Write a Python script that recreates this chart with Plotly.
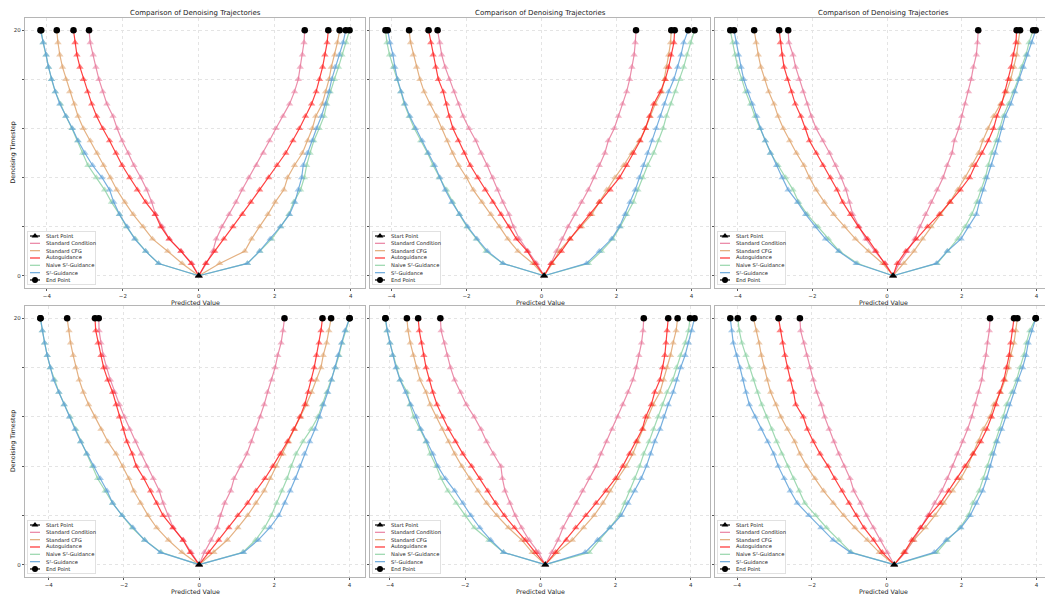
import plotly.graph_objects as go

# ---------------- data ----------------
STEPS = list(range(0, 21))          # denoising timesteps 0..20
METHODS = ["Standard Condition", "Standard CFG", "Autoguidance",
           "Naive S²-Guidance", "S²-Guidance"]
COLORS = ["#e8799b", "#dfa36c", "#ff1f1f", "#8ed2a5", "#5ea1d8"]
START_X = [0.00, 0.07, 0.16, 0.00, 0.13, 0.20]
X_TICKS = [-4, -2, 0, 2, 4]
Y_TICKS = [0, 20]
Y_MINOR = [4, 8, 12, 16]

# values for timesteps 1..20 (timestep 0 is the start point)
# panel 1
P1_COND_L = [-0.18, -0.47, -0.78, -0.96, -1.14, -1.24, -1.37, -1.53, -1.71, -1.86, -2.02, -2.15, -2.26, -2.42, -2.53, -2.63, -2.71, -2.78, -2.86, -2.89]
P1_COND_R = [0.20, 0.37, 0.46, 0.61, 0.80, 0.98, 1.14, 1.32, 1.52, 1.70, 1.86, 2.03, 2.22, 2.39, 2.52, 2.62, 2.67, 2.73, 2.77, 2.79]
P1_CFG_L = [-0.44, -0.82, -1.22, -1.47, -1.73, -1.95, -2.16, -2.33, -2.51, -2.68, -2.86, -3.04, -3.18, -3.28, -3.40, -3.50, -3.59, -3.66, -3.71, -3.74]
P1_CFG_R = [0.55, 1.21, 1.39, 1.60, 1.82, 2.01, 2.24, 2.34, 2.52, 2.73, 2.87, 2.99, 3.08, 3.25, 3.34, 3.43, 3.49, 3.58, 3.65, 3.71]
P1_AUTO_L = [-0.20, -0.47, -0.78, -1.00, -1.15, -1.40, -1.62, -1.82, -2.02, -2.18, -2.35, -2.53, -2.69, -2.82, -2.93, -3.04, -3.13, -3.21, -3.26, -3.30]
P1_AUTO_R = [0.18, 0.42, 0.66, 0.90, 1.15, 1.37, 1.60, 1.84, 2.06, 2.29, 2.48, 2.65, 2.81, 2.97, 3.09, 3.18, 3.26, 3.32, 3.38, 3.41]
P1_NAIVE_L = [-1.06, -1.40, -1.67, -1.91, -2.09, -2.30, -2.48, -2.70, -2.92, -3.06, -3.19, -3.34, -3.50, -3.64, -3.78, -3.88, -3.96, -4.02, -4.10, -4.15]
P1_NAIVE_R = [1.28, 1.61, 1.92, 2.16, 2.37, 2.50, 2.68, 2.78, 2.84, 2.93, 3.03, 3.17, 3.30, 3.37, 3.46, 3.57, 3.68, 3.77, 3.88, 3.97]
P1_S2_L = [-1.06, -1.40, -1.69, -1.89, -2.09, -2.24, -2.35, -2.55, -2.80, -3.00, -3.18, -3.33, -3.50, -3.66, -3.78, -3.88, -3.96, -4.02, -4.10, -4.17]
P1_S2_R = [1.28, 1.60, 1.88, 2.15, 2.39, 2.53, 2.62, 2.71, 2.75, 2.86, 2.99, 3.10, 3.23, 3.34, 3.43, 3.50, 3.59, 3.70, 3.80, 3.87]
# panel 2
P2_COND_L = [-0.13, -0.36, -0.59, -0.75, -0.87, -1.03, -1.17, -1.30, -1.45, -1.61, -1.75, -1.93, -2.09, -2.21, -2.33, -2.46, -2.57, -2.66, -2.71, -2.77]
P2_COND_R = [0.25, 0.40, 0.55, 0.71, 0.89, 1.07, 1.25, 1.40, 1.54, 1.69, 1.78, 1.94, 2.05, 2.16, 2.27, 2.35, 2.41, 2.47, 2.50, 2.52]
P2_CFG_L = [-0.23, -0.63, -0.90, -1.12, -1.35, -1.59, -1.82, -2.00, -2.21, -2.37, -2.51, -2.64, -2.80, -2.97, -3.13, -3.24, -3.33, -3.42, -3.49, -3.53]
P2_CFG_R = [0.29, 0.47, 0.76, 1.07, 1.34, 1.54, 1.74, 1.96, 2.19, 2.41, 2.61, 2.77, 2.90, 3.03, 3.21, 3.28, 3.33, 3.39, 3.44, 3.46]
P2_AUTO_L = [-0.17, -0.38, -0.67, -0.87, -1.08, -1.30, -1.50, -1.70, -1.90, -2.06, -2.22, -2.36, -2.46, -2.53, -2.62, -2.75, -2.82, -2.89, -2.95, -3.01]
P2_AUTO_R = [0.26, 0.53, 0.76, 1.02, 1.29, 1.54, 1.83, 2.08, 2.27, 2.45, 2.63, 2.77, 2.88, 2.99, 3.17, 3.30, 3.39, 3.45, 3.53, 3.55]
P2_NAIVE_L = [-1.03, -1.48, -1.74, -1.99, -2.19, -2.37, -2.53, -2.73, -2.89, -3.04, -3.22, -3.39, -3.53, -3.66, -3.75, -3.84, -3.95, -4.05, -4.12, -4.16]
P2_NAIVE_R = [1.25, 1.60, 1.90, 2.10, 2.27, 2.45, 2.57, 2.70, 2.83, 2.99, 3.12, 3.24, 3.33, 3.45, 3.57, 3.69, 3.79, 3.88, 3.97, 4.08]
P2_S2_L = [-1.03, -1.44, -1.72, -1.97, -2.19, -2.39, -2.57, -2.71, -2.85, -3.02, -3.18, -3.36, -3.51, -3.64, -3.75, -3.84, -3.91, -3.96, -4.04, -4.10]
P2_S2_R = [1.20, 1.54, 1.87, 2.08, 2.23, 2.36, 2.50, 2.61, 2.72, 2.83, 2.95, 3.06, 3.17, 3.28, 3.39, 3.53, 3.63, 3.72, 3.79, 3.91]
# panel 3
P3_COND_L = [-0.05, -0.33, -0.57, -0.75, -0.92, -1.01, -1.10, -1.23, -1.38, -1.54, -1.72, -1.90, -2.03, -2.14, -2.25, -2.36, -2.45, -2.52, -2.63, -2.65]
P3_COND_R = [0.32, 0.54, 0.74, 0.88, 1.03, 1.18, 1.34, 1.50, 1.61, 1.74, 1.80, 1.92, 2.00, 2.09, 2.18, 2.25, 2.31, 2.39, 2.42, 2.44]
P3_CFG_L = [-0.12, -0.50, -0.85, -1.14, -1.43, -1.68, -1.90, -2.08, -2.23, -2.43, -2.61, -2.78, -2.92, -3.03, -3.17, -3.27, -3.38, -3.45, -3.51, -3.56]
P3_CFG_R = [0.45, 0.72, 0.95, 1.18, 1.43, 1.68, 1.89, 2.09, 2.27, 2.45, 2.56, 2.71, 2.85, 3.04, 3.20, 3.31, 3.40, 3.47, 3.51, 3.56]
P3_AUTO_L = [-0.06, -0.30, -0.52, -0.77, -0.98, -1.19, -1.34, -1.52, -1.72, -1.90, -2.08, -2.19, -2.31, -2.46, -2.56, -2.67, -2.76, -2.81, -2.86, -2.89]
P3_AUTO_R = [0.27, 0.50, 0.78, 1.08, 1.40, 1.69, 1.96, 2.21, 2.36, 2.54, 2.71, 2.85, 2.94, 3.07, 3.16, 3.25, 3.32, 3.38, 3.45, 3.47]
P3_NAIVE_L = [-0.79, -1.28, -1.57, -1.85, -2.14, -2.37, -2.52, -2.72, -2.92, -3.12, -3.26, -3.41, -3.54, -3.66, -3.79, -3.89, -4.00, -4.07, -4.13, -4.20]
P3_NAIVE_R = [1.34, 1.62, 1.89, 2.09, 2.27, 2.40, 2.51, 2.63, 2.71, 2.80, 2.92, 3.02, 3.11, 3.25, 3.39, 3.51, 3.60, 3.72, 3.80, 3.91]
P3_S2_L = [-0.83, -1.30, -1.65, -1.92, -2.18, -2.40, -2.65, -2.81, -2.96, -3.13, -3.26, -3.39, -3.49, -3.61, -3.73, -3.84, -3.91, -3.98, -4.04, -4.10]
P3_S2_R = [1.32, 1.61, 1.98, 2.18, 2.39, 2.47, 2.58, 2.67, 2.80, 2.89, 2.98, 3.07, 3.16, 3.31, 3.42, 3.54, 3.65, 3.75, 3.87, 3.98]
# panel 4
P4_COND_L = [-0.21, -0.42, -0.69, -0.82, -0.96, -1.06, -1.22, -1.40, -1.54, -1.69, -1.85, -1.99, -2.12, -2.25, -2.36, -2.46, -2.55, -2.61, -2.66, -2.67]
P4_COND_R = [0.14, 0.32, 0.48, 0.57, 0.68, 0.84, 0.93, 1.10, 1.27, 1.39, 1.51, 1.63, 1.73, 1.82, 1.93, 2.02, 2.09, 2.18, 2.23, 2.27]
P4_CFG_L = [-0.46, -0.82, -1.13, -1.36, -1.56, -1.74, -1.87, -2.03, -2.21, -2.43, -2.61, -2.77, -2.94, -3.08, -3.19, -3.28, -3.35, -3.42, -3.46, -3.51]
P4_CFG_R = [0.39, 0.75, 1.03, 1.29, 1.51, 1.73, 1.89, 2.05, 2.23, 2.38, 2.54, 2.70, 2.85, 2.99, 3.12, 3.24, 3.30, 3.39, 3.45, 3.51]
P4_AUTO_L = [-0.24, -0.43, -0.70, -0.96, -1.13, -1.29, -1.47, -1.67, -1.78, -1.92, -2.01, -2.12, -2.21, -2.30, -2.43, -2.54, -2.61, -2.69, -2.75, -2.77]
P4_AUTO_R = [0.26, 0.52, 0.79, 1.03, 1.29, 1.51, 1.75, 1.96, 2.16, 2.35, 2.52, 2.68, 2.81, 2.90, 2.99, 3.06, 3.12, 3.19, 3.24, 3.28]
P4_NAIVE_L = [-1.01, -1.45, -1.78, -2.05, -2.30, -2.50, -2.70, -2.84, -2.99, -3.15, -3.28, -3.43, -3.59, -3.73, -3.84, -3.96, -4.04, -4.11, -4.17, -4.22]
P4_NAIVE_R = [1.16, 1.50, 1.74, 1.92, 2.06, 2.20, 2.34, 2.45, 2.58, 2.76, 2.98, 3.16, 3.28, 3.40, 3.52, 3.62, 3.72, 3.80, 3.90, 4.00]
P4_S2_L = [-1.03, -1.45, -1.76, -2.05, -2.30, -2.45, -2.63, -2.81, -2.99, -3.15, -3.30, -3.45, -3.59, -3.73, -3.87, -3.96, -4.04, -4.11, -4.17, -4.22]
P4_S2_R = [1.18, 1.57, 1.88, 2.12, 2.28, 2.42, 2.56, 2.68, 2.80, 2.94, 3.08, 3.20, 3.30, 3.42, 3.52, 3.62, 3.70, 3.79, 3.88, 4.00]
# panel 5
P5_COND_L = [-0.05, -0.30, -0.50, -0.67, -0.81, -0.94, -1.01, -1.05, -1.25, -1.43, -1.58, -1.76, -1.97, -2.12, -2.28, -2.39, -2.48, -2.55, -2.64, -2.66]
P5_COND_R = [0.31, 0.47, 0.60, 0.78, 0.96, 1.12, 1.30, 1.48, 1.61, 1.76, 1.91, 2.06, 2.19, 2.33, 2.46, 2.55, 2.62, 2.69, 2.73, 2.75]
P5_CFG_L = [-0.22, -0.49, -0.85, -1.16, -1.43, -1.66, -1.88, -2.09, -2.28, -2.44, -2.61, -2.75, -2.93, -3.04, -3.20, -3.29, -3.38, -3.46, -3.52, -3.55]
P5_CFG_R = [0.45, 0.85, 1.15, 1.43, 1.66, 1.85, 2.06, 2.28, 2.46, 2.59, 2.73, 2.86, 3.00, 3.18, 3.28, 3.37, 3.46, 3.53, 3.61, 3.65]
P5_AUTO_L = [-0.13, -0.40, -0.69, -0.96, -1.19, -1.40, -1.61, -1.83, -2.06, -2.26, -2.44, -2.60, -2.75, -2.86, -2.95, -3.04, -3.10, -3.16, -3.22, -3.25]
P5_AUTO_R = [0.40, 0.69, 0.94, 1.21, 1.48, 1.74, 2.00, 2.19, 2.37, 2.55, 2.71, 2.80, 2.95, 3.04, 3.18, 3.25, 3.31, 3.34, 3.37, 3.40]
P5_NAIVE_L = [-0.98, -1.37, -1.76, -2.00, -2.24, -2.46, -2.64, -2.77, -2.93, -3.04, -3.20, -3.37, -3.47, -3.54, -3.73, -3.82, -3.93, -4.00, -4.08, -4.12]
P5_NAIVE_R = [1.30, 1.57, 1.85, 2.10, 2.24, 2.39, 2.51, 2.64, 2.75, 2.89, 3.01, 3.13, 3.25, 3.37, 3.52, 3.62, 3.73, 3.85, 3.94, 3.98]
P5_S2_L = [-0.98, -1.32, -1.61, -1.85, -2.06, -2.28, -2.53, -2.73, -2.86, -3.03, -3.18, -3.30, -3.45, -3.58, -3.73, -3.84, -3.93, -4.00, -4.07, -4.12]
P5_S2_R = [1.19, 1.52, 1.85, 2.15, 2.33, 2.51, 2.68, 2.82, 2.93, 3.04, 3.18, 3.28, 3.40, 3.53, 3.62, 3.73, 3.85, 3.94, 4.03, 4.10]
# panel 6
P6_COND_L = [0.01, -0.17, -0.36, -0.54, -0.70, -0.88, -0.98, -1.14, -1.28, -1.41, -1.54, -1.66, -1.75, -1.87, -1.96, -2.05, -2.14, -2.21, -2.30, -2.32]
P6_COND_R = [0.50, 0.72, 0.92, 1.10, 1.28, 1.47, 1.62, 1.76, 1.89, 2.03, 2.16, 2.27, 2.36, 2.45, 2.54, 2.58, 2.65, 2.69, 2.74, 2.76]
P6_CFG_L = [-0.20, -0.52, -0.85, -1.15, -1.43, -1.69, -1.92, -2.14, -2.32, -2.46, -2.65, -2.83, -2.96, -3.10, -3.19, -3.28, -3.35, -3.41, -3.48, -3.56]
P6_CFG_R = [0.45, 0.72, 1.03, 1.29, 1.52, 1.76, 1.98, 2.16, 2.30, 2.45, 2.58, 2.76, 2.86, 3.04, 3.16, 3.25, 3.31, 3.40, 3.45, 3.49]
P6_AUTO_L = [-0.12, -0.35, -0.61, -0.81, -1.01, -1.19, -1.39, -1.57, -1.78, -1.96, -2.12, -2.23, -2.43, -2.49, -2.58, -2.65, -2.72, -2.78, -2.85, -2.89]
P6_AUTO_R = [0.47, 0.67, 0.90, 1.14, 1.43, 1.65, 1.89, 2.09, 2.31, 2.51, 2.67, 2.80, 2.92, 3.02, 3.13, 3.20, 3.27, 3.31, 3.36, 3.40]
P6_NAIVE_L = [-0.95, -1.28, -1.61, -1.90, -2.19, -2.34, -2.49, -2.65, -2.81, -2.94, -3.07, -3.21, -3.34, -3.45, -3.56, -3.67, -3.76, -3.87, -3.94, -3.98]
P6_NAIVE_R = [1.34, 1.62, 1.96, 2.18, 2.30, 2.47, 2.58, 2.69, 2.80, 2.92, 3.01, 3.11, 3.20, 3.34, 3.47, 3.56, 3.66, 3.73, 3.82, 3.98]
P6_S2_L = [-0.97, -1.43, -1.76, -2.08, -2.39, -2.58, -2.74, -2.90, -3.02, -3.18, -3.36, -3.52, -3.67, -3.76, -3.83, -3.92, -4.01, -4.10, -4.14, -4.18]
P6_S2_R = [1.27, 1.59, 1.98, 2.23, 2.39, 2.56, 2.67, 2.76, 2.85, 2.95, 3.07, 3.18, 3.27, 3.38, 3.51, 3.63, 3.72, 3.78, 3.87, 3.98]

PANELS = [
    [(P1_COND_L, P1_COND_R), (P1_CFG_L, P1_CFG_R), (P1_AUTO_L, P1_AUTO_R), (P1_NAIVE_L, P1_NAIVE_R), (P1_S2_L, P1_S2_R)],
    [(P2_COND_L, P2_COND_R), (P2_CFG_L, P2_CFG_R), (P2_AUTO_L, P2_AUTO_R), (P2_NAIVE_L, P2_NAIVE_R), (P2_S2_L, P2_S2_R)],
    [(P3_COND_L, P3_COND_R), (P3_CFG_L, P3_CFG_R), (P3_AUTO_L, P3_AUTO_R), (P3_NAIVE_L, P3_NAIVE_R), (P3_S2_L, P3_S2_R)],
    [(P4_COND_L, P4_COND_R), (P4_CFG_L, P4_CFG_R), (P4_AUTO_L, P4_AUTO_R), (P4_NAIVE_L, P4_NAIVE_R), (P4_S2_L, P4_S2_R)],
    [(P5_COND_L, P5_COND_R), (P5_CFG_L, P5_CFG_R), (P5_AUTO_L, P5_AUTO_R), (P5_NAIVE_L, P5_NAIVE_R), (P5_S2_L, P5_S2_R)],
    [(P6_COND_L, P6_COND_R), (P6_CFG_L, P6_CFG_R), (P6_AUTO_L, P6_AUTO_R), (P6_NAIVE_L, P6_NAIVE_R), (P6_S2_L, P6_S2_R)],
]

# ---------------- layout geometry ----------------
# the page body adds an 8px margin, so the figure is sized to fill the rest of the window
W, H = 1045, 588
COLS_PX = [(17, 357), (362, 702), (707, 1043)]
ROWS_PX = [(10, 280), (298, 569)]
FONT = "DejaVu Sans"
TXT = "#222222"
GRID = "#e4e4e4"


def rgba(hex_color, a):
    h = hex_color.lstrip("#")
    r, g, b = int(h[0:2], 16), int(h[2:4], 16), int(h[4:6], 16)
    return f"rgba({r},{g},{b},{a})"


fig = go.Figure()
layout = dict(
    width=W, height=H,
    margin=dict(l=0, r=0, t=0, b=0),
    paper_bgcolor="white", plot_bgcolor="white",
    showlegend=False,
    font=dict(family=FONT, size=6, color=TXT),
)
annotations = []
shapes = []

LEG_LABELS = ["Start Point"] + METHODS + ["End Point"]

for p in range(6):
    r, c = divmod(p, 3)
    x0px, x1px = COLS_PX[c]
    t_px, b_px = ROWS_PX[r]
    ax = "" if p == 0 else str(p + 1)
    xa, ya = "x" + ax, "y" + ax
    start = START_X[p]

    # data traces
    allx = [start]
    for m, (left, right) in enumerate(PANELS[p]):
        for branch in (left, right):
            xs = [start] + list(branch)
            allx += xs
            fig.add_trace(go.Scatter(
                x=xs, y=STEPS, mode="lines+markers", xaxis=xa, yaxis=ya,
                line=dict(color=rgba(COLORS[m], 0.85), width=1.2),
                marker=dict(symbol="triangle-up", size=6.5, color=rgba(COLORS[m], 0.55),
                            line=dict(width=0)),
                hoverinfo="skip", showlegend=False))
    # start point
    fig.add_trace(go.Scatter(
        x=[start], y=[STEPS[0]], mode="markers", xaxis=xa, yaxis=ya,
        marker=dict(symbol="triangle-up", size=7, color="black"),
        hoverinfo="skip", showlegend=False))
    # end points
    ends = [br[-1] for pair in PANELS[p] for br in pair]
    fig.add_trace(go.Scatter(
        x=ends, y=[STEPS[-1]] * len(ends), mode="markers", xaxis=xa, yaxis=ya,
        marker=dict(symbol="circle", size=6.5, color="black"),
        hoverinfo="skip", showlegend=False))

    lo, hi = min(allx), max(allx)
    pad = (hi - lo) * 0.05
    common = dict(
        showline=True, mirror=True, linecolor="#b5b5b5", linewidth=1.3,
        ticks="outside", ticklen=2, tickwidth=0.7, tickcolor="#555555",
        showgrid=True, gridcolor=GRID, griddash="dot", gridwidth=0.7,
        zeroline=False, tickfont=dict(size=5.5, color="#333333", family=FONT),
        fixedrange=True,
    )
    layout["xaxis" + ax] = dict(
        common, domain=[x0px / W, x1px / W], range=[lo - pad, hi + pad],
        anchor=ya, tickvals=X_TICKS,
    )
    layout["yaxis" + ax] = dict(
        common, domain=[1 - b_px / H, 1 - t_px / H], range=[-1, 21],
        anchor=xa, tickvals=Y_TICKS, showticklabels=(c == 0),
        minor=dict(tickvals=Y_MINOR, ticks="outside", ticklen=2, tickwidth=0.7,
                   tickcolor="#555555", showgrid=True, gridcolor=GRID,
                   griddash="dot", gridwidth=0.7),
    )

    # axis titles
    annotations.append(dict(
        text="Predicted Value", xref="paper", yref="paper",
        x=(x0px + x1px) / 2 / W, y=1 - (b_px + 14) / H, xanchor="center", yanchor="middle",
        showarrow=False, font=dict(size=6.3, family=FONT, color=TXT)))
    if c == 0:
        annotations.append(dict(
            text="Denoising Timestep", xref="paper", yref="paper", textangle=-90,
            x=4.5 / W, y=1 - (t_px + b_px) / 2 / H, xanchor="center", yanchor="middle",
            showarrow=False, font=dict(size=6.3, family=FONT, color=TXT)))
    if r == 0:
        annotations.append(dict(
            text="Comparison of Denoising Trajectories", xref="paper", yref="paper",
            x=(x0px + x1px) / 2 / W, y=1 - 4.8 / H, xanchor="center", yanchor="middle",
            showarrow=False, font=dict(size=7, family=FONT, color=TXT)))

    # ---- per-panel legend built on a small helper axis ----
    lg = str(p + 7)
    lx0, lx1 = x0px + 2, x0px + 71
    ly0, ly1 = b_px - 57, b_px - 3
    layout["xaxis" + lg] = dict(domain=[lx0 / W, lx1 / W], range=[0, 69], visible=False,
                                anchor="y" + lg, fixedrange=True)
    layout["yaxis" + lg] = dict(domain=[1 - ly1 / H, 1 - ly0 / H], range=[54, 0], visible=False,
                                anchor="x" + lg, fixedrange=True)
    shapes.append(dict(type="rect", xref="x" + lg, yref="y" + lg, x0=0.3, x1=68.7, y0=0.3, y1=53.7,
                       line=dict(color="#cfcfcf", width=0.8), fillcolor="rgba(255,255,255,0.85)",
                       layer="below"))
    for j, lab in enumerate(LEG_LABELS):
        yy = 5 + 7.33 * j
        if j == 0 or j == len(LEG_LABELS) - 1:
            col = "black"
            sym = "triangle-up" if j == 0 else "circle"
            fig.add_trace(go.Scatter(x=[3, 13], y=[yy, yy], mode="lines", xaxis="x" + lg, yaxis="y" + lg,
                                     line=dict(color=col, width=1.2), hoverinfo="skip", showlegend=False))
            fig.add_trace(go.Scatter(x=[8], y=[yy], mode="markers", xaxis="x" + lg, yaxis="y" + lg,
                                     marker=dict(symbol=sym, size=6, color=col), cliponaxis=False,
                                     hoverinfo="skip", showlegend=False))
        else:
            fig.add_trace(go.Scatter(x=[3, 13], y=[yy, yy], mode="lines", xaxis="x" + lg, yaxis="y" + lg,
                                     line=dict(color=rgba(COLORS[j - 1], 0.85), width=1.3),
                                     hoverinfo="skip", showlegend=False))
        annotations.append(dict(text=lab, xref="x" + lg, yref="y" + lg, x=16.5, y=yy,
                                xanchor="left", yanchor="middle", showarrow=False,
                                font=dict(size=5.2, family=FONT, color=TXT)))

layout["annotations"] = annotations
layout["shapes"] = shapes
fig.update_layout(**layout)
fig.write_html("out.html")
